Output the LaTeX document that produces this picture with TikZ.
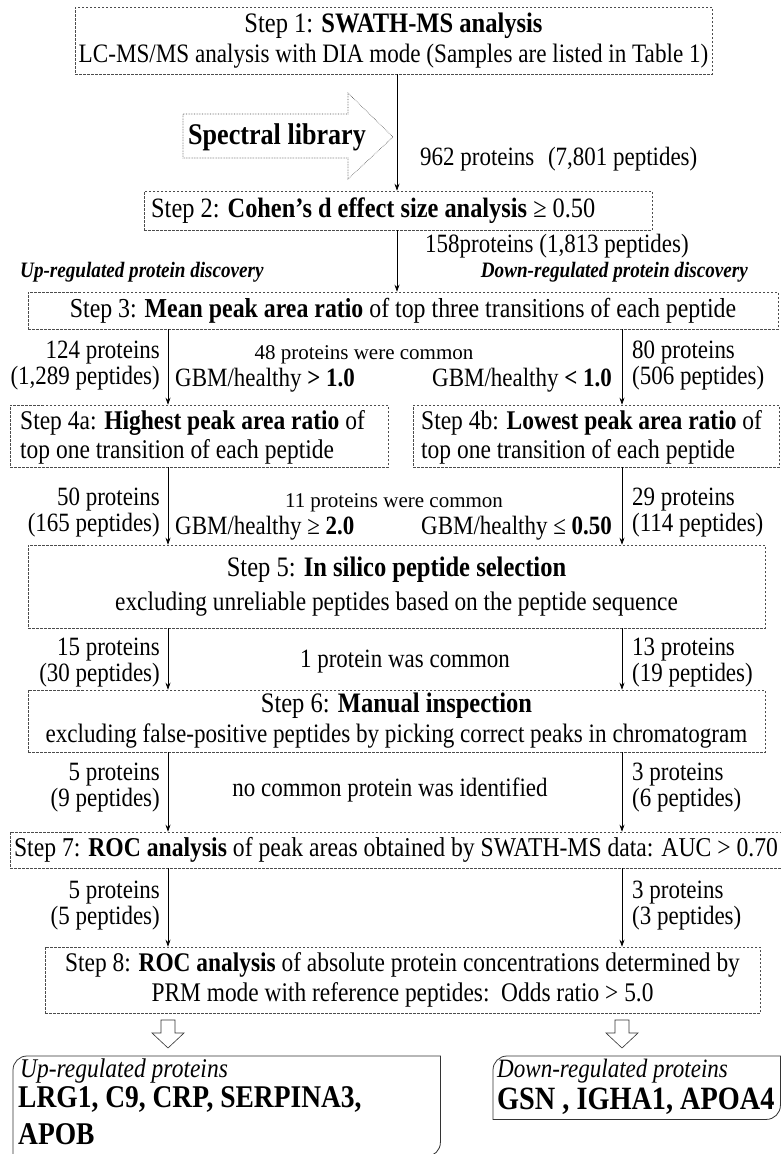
\documentclass[tikz,border=0pt]{standalone}
\usepackage{fontspec}
\setmainfont{Liberation Serif}[FakeStretch=0.87]
\newfontfamily\plainserif{Liberation Serif}
\usetikzlibrary{arrows.meta}
\newcommand\ttl[1]{{\fontsize{28.2}{30}\selectfont #1}}
\begin{document}
\begin{tikzpicture}[x=1pt,y=-1pt,
  stepbox/.style={draw=black!70, dash pattern=on 2.5pt off 1.5pt, line width=0.6pt, inner sep=0pt, align=center, font=\fontsize{26.6}{30}\selectfont},
  arr/.style={-{Stealth[length=7pt,width=5pt]}, line width=0.7pt},
  txt/.style={inner sep=0pt, font=\fontsize{26.4}{26}\selectfont},
  boxtxt/.style={inner sep=0pt, align=left, font=\fontsize{27}{29}\selectfont},
  smalltxt/.style={inner sep=0pt, font=\plainserif\fontsize{21}{22}\selectfont},
  headtxt/.style={inner sep=0pt, font=\fontsize{22}{22}\selectfont\bfseries\itshape},
  openarr/.style={draw=black!80, line width=0.6pt, fill=white},
  resbox/.style={draw=black!80, line width=0.8pt}
]
\useasboundingbox (0,0) rectangle (781,1154);

% column coordinates
\coordinate (xC) at (397,0);
\coordinate (xL) at (168,0);
\coordinate (xR) at (622,0);

% Step boxes
\node[stepbox, minimum width=637, minimum height=67] (s1) at (393.5,40.5)
  {\ttl{Step 1: \textbf{SWATH-MS analysis}}\\LC-MS/MS analysis with DIA mode (Samples are listed in Table 1)};
\node[stepbox, minimum width=508, minimum height=39] (s2) at (398,210.5) {};
\node[inner sep=0pt, anchor=west, font=\fontsize{28}{30}\selectfont] (s2t) at (151,211)
  {Step 2: \textbf{Cohen’s d effect size analysis} ≥ 0.50};
\node[stepbox, minimum width=750, minimum height=37, font=\fontsize{27.4}{30}\selectfont] (s3) at (403,310.5)
  {Step 3: \textbf{Mean peak area ratio} of top three transitions of each peptide};
\node[stepbox, minimum width=378, minimum height=62] (s4a) at (199,436) {};
\node[boxtxt, anchor=west] (s4at) at (20,437)
  {Step 4a: \textbf{Highest peak area ratio} of\\top one transition of each peptide};
\node[stepbox, minimum width=366, minimum height=62] (s4b) at (596,436) {};
\node[boxtxt, anchor=west] (s4bt) at (421,437)
  {Step 4b: \textbf{Lowest peak area ratio} of\\top one transition of each peptide};
\node[stepbox, minimum width=737, minimum height=83, font=\fontsize{26.8}{34}\selectfont] (s5) at (396.5,586.5)
  {\ttl{Step 5: \textbf{In silico peptide selection}}\\excluding unreliable peptides based on the peptide sequence};
\node[stepbox, minimum width=737, minimum height=62] (s6) at (396.5,721)
  {\ttl{Step 6: \textbf{Manual inspection}}\\excluding false-positive peptides by picking correct peaks in chromatogram};
\node[stepbox, minimum width=772, minimum height=36, font=\fontsize{27.2}{30}\selectfont] (s7) at (396,850)
  {Step 7: \textbf{ROC analysis} of peak areas obtained by SWATH-MS data: AUC > 0.70};
\node[stepbox, minimum width=715, minimum height=66, font=\fontsize{26.9}{30}\selectfont] (s8) at (402.5,980)
  {Step 8: \textbf{ROC analysis} of absolute protein concentrations determined by\\PRM mode with reference peptides:\ \ Odds ratio > 5.0};

% Spectral library block arrow
\draw[black!70, densely dotted, line width=0.6pt] (183,114) -- (348,114) -- (348,93) -- (393,137) -- (348,179) -- (348,158) -- (183,158) -- cycle;
\node[inner sep=0pt, font=\fontsize{30}{30}\selectfont\bfseries] (lib) at (277,137) {Spectral library};

% Main arrows
\draw[arr] (s1.south -| xC) -- (s2.north -| xC);
\draw[arr] (s2.south -| xC) -- (s3.north -| xC);
\draw[arr] (s3.south -| xL) -- (s4a.north -| xL);
\draw[arr] (s3.south -| xR) -- (s4b.north -| xR);
\draw[arr] (s4a.south -| xL) -- (s5.north -| xL);
\draw[arr] (s4b.south -| xR) -- (s5.north -| xR);
\draw[arr] (s5.south -| xL) -- (s6.north -| xL);
\draw[arr] (s5.south -| xR) -- (s6.north -| xR);
\draw[arr] (s6.south -| xL) -- (s7.north -| xL);
\draw[arr] (s6.south -| xR) -- (s7.north -| xR);
\draw[arr] (s7.south -| xL) -- (s8.north -| xL);
\draw[arr] (s7.south -| xR) -- (s8.north -| xR);

% Labels near step 1-2
\node[txt, anchor=west] (n962) at (420,159) {962 proteins\hspace{0.3em} (7,801 peptides)};
\node[txt, anchor=west] (n158) at (425,246) {158proteins (1,813 peptides)};
\node[headtxt, anchor=west] (upd) at (20,272) {Up-regulated protein discovery};
\node[headtxt, anchor=east] (dnd) at (748,272) {Down-regulated protein discovery};

% Step 3 -> 4
\node[txt, anchor=east, align=right] (l3) at (160,366) {124 proteins\\(1,289 peptides)};
\node[txt, anchor=west, align=left] (r3) at (632,366) {80 proteins\\(506 peptides)};
\node[smalltxt] (c3) at (364,355) {48 proteins were common};
\node[txt, anchor=west] (g3l) at (175,380) {GBM/healthy \textbf{> 1.0}};
\node[txt, anchor=east] (g3r) at (612,380) {GBM/healthy \textbf{< 1.0}};

% Step 4 -> 5
\node[txt, anchor=east, align=right] (l4) at (160,513) {50 proteins\\(165 peptides)};
\node[txt, anchor=west, align=left] (r4) at (632,513) {29 proteins\\(114 peptides)};
\node[smalltxt] (c4) at (394,503) {11 proteins were common};
\node[txt, anchor=west] (g4l) at (175,528) {GBM/healthy ≥ \textbf{2.0}};
\node[txt, anchor=east] (g4r) at (612,528) {GBM/healthy ≤ \textbf{0.50}};

% Step 5 -> 6
\node[txt, anchor=east, align=right] (l5) at (160,663) {15 proteins\\(30 peptides)};
\node[txt, anchor=west, align=left] (r5) at (632,663) {13 proteins\\(19 peptides)};
\node[txt] (c5) at (405,662) {1 protein was common};

% Step 6 -> 7
\node[txt, anchor=east, align=right] (l6) at (160,788) {5 proteins\\(9 peptides)};
\node[txt, anchor=west, align=left] (r6) at (632,788) {3 proteins\\(6 peptides)};
\node[txt] (c6) at (390,790) {no common protein was identified};

% Step 7 -> 8
\node[txt, anchor=east, align=right] (l7) at (160,906) {5 proteins\\(5 peptides)};
\node[txt, anchor=west, align=left] (r7) at (632,906) {3 proteins\\(3 peptides)};

% Open arrows
\draw[openarr] (161,1020) -- (175,1020) -- (175,1033) -- (184,1033) -- (168,1048) -- (152,1033) -- (161,1033) -- cycle;
\draw[openarr] (615,1020) -- (629,1020) -- (629,1033) -- (638,1033) -- (622,1048) -- (606,1033) -- (615,1033) -- cycle;

% Result boxes
\node[inner sep=0pt, minimum width=427, minimum height=100, anchor=north west] (up) at (13,1056) {};
\draw[resbox] (up.south west) -- ([yshift=-14pt]up.north west) arc[start angle=180, end angle=90, radius=14pt] -- (up.north east) -- ([yshift=14pt]up.south east) arc[start angle=0, end angle=-90, radius=14pt] -- cycle;
\node[inner sep=0pt, anchor=west, font=\fontsize{27}{26}\selectfont\itshape] (upt) at (20,1071) {Up-regulated proteins};
\node[inner sep=0pt, anchor=north west, align=left, font=\fontsize{31.6}{37}\selectfont\bfseries] (upl) at (18,1086) {LRG1, C9, CRP, SERPINA3,\\APOB};

\node[inner sep=0pt, minimum width=287, minimum height=63, anchor=north west] (dn) at (493,1056) {};
\draw[resbox] (dn.south west) -- ([yshift=-14pt]dn.north west) arc[start angle=180, end angle=90, radius=14pt] -- (dn.north east) -- ([yshift=14pt]dn.south east) arc[start angle=0, end angle=-90, radius=14pt] -- cycle;
\node[inner sep=0pt, anchor=west, font=\fontsize{26.5}{26}\selectfont\itshape] (dnt) at (497,1071) {Down-regulated proteins};
\node[inner sep=0pt, anchor=west, font=\fontsize{32.5}{36}\selectfont\bfseries] (dnl) at (497,1101) {GSN , IGHA1, APOA4};

\end{tikzpicture}
\end{document}
